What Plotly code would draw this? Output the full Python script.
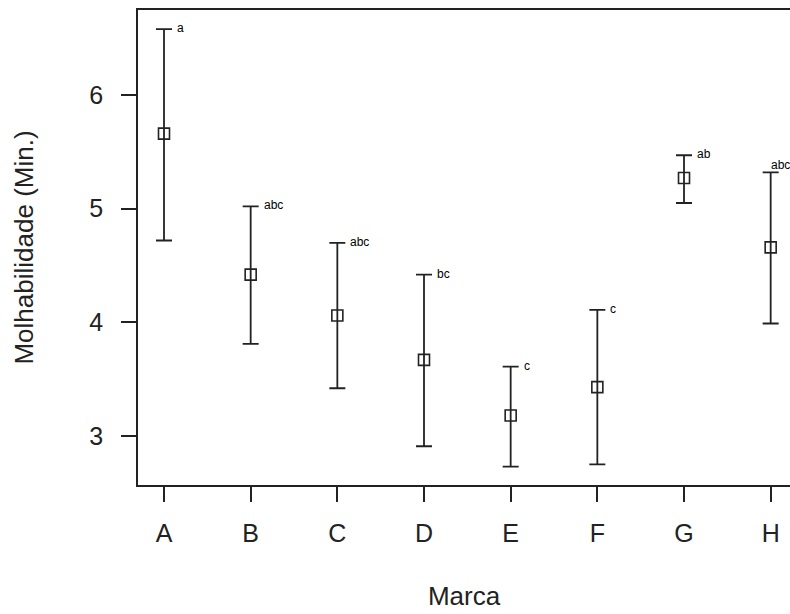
import plotly.graph_objects as go

# Médias e intervalos (limite inferior / superior) de molhabilidade por marca
marcas = ["A", "B", "C", "D", "E", "F", "G", "H"]
media = [5.66, 4.42, 4.06, 3.67, 3.18, 3.43, 5.27, 4.66]
limite_sup = [6.58, 5.02, 4.70, 4.42, 3.61, 4.11, 5.47, 5.32]
limite_inf = [4.72, 3.81, 3.42, 2.91, 2.73, 2.75, 5.05, 3.99]
letras = ["a", "abc", "abc", "bc", "c", "c", "ab", "abc"]

posicoes = list(range(1, len(marcas) + 1))
erro_sup = [s - m for s, m in zip(limite_sup, media)]
erro_inf = [m - i for m, i in zip(media, limite_inf)]

cor = "#222222"
fonte = "Liberation Sans, Arial, sans-serif"

fig = go.Figure()
fig.add_trace(go.Scatter(
    x=posicoes,
    y=media,
    mode="markers",
    marker=dict(symbol="square-open", size=11, color=cor, line=dict(width=1.6, color=cor)),
    error_y=dict(type="data", symmetric=False, array=erro_sup, arrayminus=erro_inf,
                 color=cor, thickness=1.8, width=8),
    showlegend=False,
))

# Letras de agrupamento ao lado do limite superior
# (a última fica sobre a barra para caber junto à borda direita)
for k, (x, y, txt) in enumerate(zip(posicoes, limite_sup, letras)):
    ultima = k == len(letras) - 1
    fig.add_annotation(x=x, y=y, text=txt, showarrow=False, xanchor="left", yanchor="middle",
                       xshift=-2 if ultima else 11, yshift=7 if ultima else 1,
                       font=dict(family=fonte, size=12, color="#000000"))

fig.update_layout(
    width=790, height=614,
    margin=dict(l=138, r=0, t=10, b=129),
    plot_bgcolor="white", paper_bgcolor="white",
    font=dict(family=fonte, color=cor),
)
fig.update_xaxes(
    range=[0.7, 8.223],
    tickmode="array", tickvals=posicoes, ticktext=marcas,
    showgrid=False, zeroline=False,
    showline=True, linecolor=cor, linewidth=1.5, mirror=True,
    ticks="outside", ticklen=15, tickwidth=1.5, tickcolor=cor,
    ticklabelstandoff=10,
    tickfont=dict(size=25, color=cor),
    title=dict(text="Marca", font=dict(size=26, color=cor), standoff=41),
)
fig.update_yaxes(
    range=[2.569, 6.748],
    tickvals=[3, 4, 5, 6],
    showgrid=False, zeroline=False,
    showline=True, linecolor=cor, linewidth=1.5,
    ticks="outside", ticklen=15, tickwidth=1.5, tickcolor=cor,
    ticklabelstandoff=13,
    tickfont=dict(size=25, color=cor),
    title=dict(text="Molhabilidade (Min.)", font=dict(size=26, color=cor), standoff=48),
)

fig.write_html("out.html")
